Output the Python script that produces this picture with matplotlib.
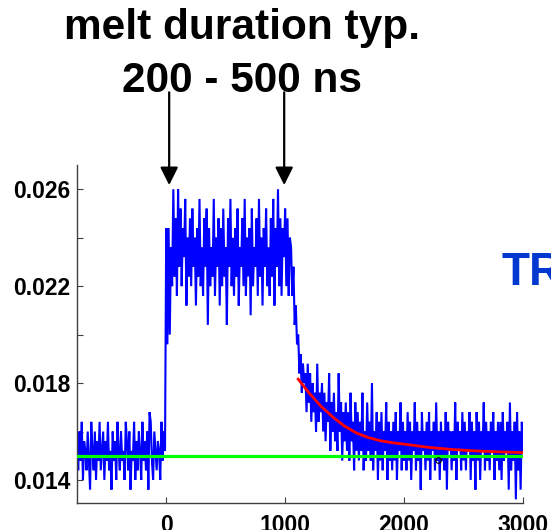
import numpy as np
import matplotlib
matplotlib.use("Agg")
import matplotlib.pyplot as plt

plt.rcParams['font.family'] = ['Liberation Sans', 'DejaVu Sans']
plt.rcParams['font.weight'] = 'bold'

# ---- data (signal values in units of 1e-4) ----
t_start, t_step = -750, 10

baseline_vals = [156,144,160,148,164,140,156,152,144,160,148,136,164,152,144,160,140,156,148,164,
                 144,152,160,140,156,148,164,144,152,136,160,148,156,140,164,152,144,160,148,152,
                 140,164,156,144,160,136,152,148,164,140,156,144,160,152,140,164,148,156,144,160,
                 136,168,164,148,140,160,152,144,156,152,140,164,148,160,152]

plateau_vals = [244,196,244,200,236,220,260,224,248,216,260,228,252,220,244,232,256,212,240,224,
                248,220,252,228,240,212,244,224,256,220,236,216,248,228,252,204,244,220,236,224,
                256,216,240,228,248,212,244,220,252,224,236,204,248,228,256,220,240,216,244,224,
                252,212,236,228,248,220,256,216,240,224,244,208,252,220,236,228,248,216,256,224,
                240,212,244,228,252,220,236,216,248,224,256,212,244,228,260,220,248,216,244,232,
                252,220,248,216,240]

drop_vals = [236,216,228,204,212,196]

decay_vals = [200,184,192,176,188,180,184,168,188,172,
              184,164,180,168,176,160,188,164,176,168,
              180,160,176,156,172,164,184,152,172,160,
              176,156,168,152,184,160,172,148,168,156,
              172,152,168,148,176,156,164,144,172,152,
              168,148,164,152,176,144,160,148,172,152,
              164,148,180,144,160,152,168,140,164,148,
              168,144,160,152,172,140,164,148,160,144,
              164,148,168,140,160,152,172,144,164,148,
              160,144,168,148,164,140,160,152,172,144,
              164,148,160,136,168,152,160,144,164,148,
              168,140,160,152,164,144,172,148,160,140,
              164,148,160,144,168,136,164,152,160,144,
              160,148,172,140,164,152,160,144,168,148,
              164,144,160,152,168,140,164,148,160,136,
              168,148,164,140,160,152,172,144,164,148,
              160,144,164,152,168,140,160,148,164,144,
              164,140,168,148,160,152,164,136,172,144,
              160,148,164,132,168,144,160,136,164,152]

fit_t = [1110, 1200, 1300, 1400, 1500, 1600, 1700, 1800, 1900, 2000, 2200, 2400, 2600, 2800, 3000]
fit_v = [0.01816, 0.01760, 0.01705, 0.01660, 0.01622, 0.01594, 0.01575, 0.01562, 0.01554,
         0.01548, 0.01535, 0.01526, 0.01520, 0.01516, 0.01513]

base_t = [-750, 3000]
base_v = [0.0150, 0.0150]

marker_t, marker_v = 2283, 0.01482

arrow_t = [25, 992]

signal = np.array(baseline_vals + plateau_vals + drop_vals + decay_vals) * 1e-4
t = t_start + t_step * np.arange(len(signal))

# ---- figure ----
fig = plt.figure(figsize=(5.51, 5.30), dpi=100)
ax = fig.add_axes([77/551, 27/530, 446/551, 338/530])

ax.plot(t, signal, color='#0000ff', lw=1.5, zorder=2, solid_joinstyle='miter')
ax.plot(base_t, base_v, color='#00ff00', lw=2.3, zorder=3)
ax.plot(fit_t, fit_v, color='#ff0000', lw=2.0, zorder=4)
ax.plot([marker_t], [marker_v], 'o', ms=4, mfc='none', mec='k', mew=0.8, zorder=5)

ax.set_xlim(-750, 3000)
ax.set_ylim(0.01305, 0.0270)

ax.set_xticks([0, 1000, 2000, 3000])
ax.set_yticks([0.014, 0.016, 0.018, 0.020, 0.022, 0.024, 0.026])
ax.set_yticklabels(['0.014', '', '0.018', '', '0.022', '', '0.026'])
ax.tick_params(direction='in', length=4, width=0.8, color='#404040', labelsize=16.5)
ax.tick_params(axis='x', pad=8)
ax.tick_params(axis='y', pad=5)
for s in ['top', 'right']:
    ax.spines[s].set_visible(False)
for s in ['left', 'bottom']:
    ax.spines[s].set_color('#404040')
    ax.spines[s].set_linewidth(1.0)

for xa in arrow_t:
    ax.annotate('', xy=(xa, 0.02617), xytext=(xa, 0.0300), xycoords='data',
                textcoords='data', annotation_clip=False,
                arrowprops=dict(arrowstyle='-|>,head_length=1.0,head_width=0.5',
                                mutation_scale=10.8, lw=1.6, color='k',
                                shrinkA=0, shrinkB=0))

fig.text(242/551, (530-39)/530, 'melt duration typ.', ha='center', va='baseline',
         fontsize=30.5, fontweight='bold', color='k')
fig.text(242/551, (530-92)/530, '200 - 500 ns', ha='center', va='baseline',
         fontsize=30.5, fontweight='bold', color='k')
fig.text(502/551, (530-285)/530, 'TR', ha='left', va='baseline',
         fontsize=33, fontweight='bold', color='#0038d0')

fig.savefig('out.png', dpi=100)
